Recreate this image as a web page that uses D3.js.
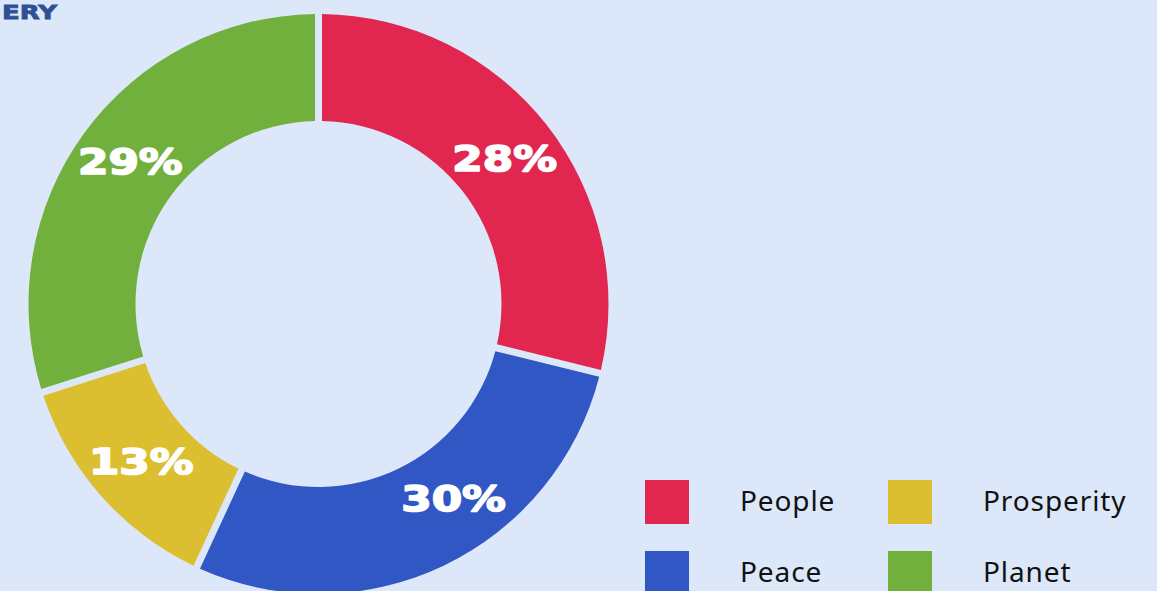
<!DOCTYPE html>
<html>
<head>
<meta charset="utf-8">
<script src="https://cdn.jsdelivr.net/npm/d3@7"></script>
<style>
  html, body { margin: 0; padding: 0; background: #dce8fa; overflow: hidden; }
  svg { display: block; }
</style>
</head>
<body>
<svg id="chart" width="1157" height="591"></svg>
<script>
// ---- data ----
const categories = ["People", "Peace", "Prosperity", "Planet"];
const values = [28.9, 28.1, 13.0, 30.0];          // share of the ring
const valueLabels = ["28%", "30%", "13%", "29%"];  // printed labels
const colors = ["#e1264f", "#3157c4", "#dcbf30", "#71b03c"];
const legendOrder = ["People", "Prosperity", "Peace", "Planet"];
const titleFragment = "ERY";

// ---- layout ----
const W = 1157, H = 591;
const cx = 318.5, cy = 304, outerR = 290, innerR = 183;
const labelAngleNudge = [0, -0.16, 0, 0.02];
const svg = d3.select("#chart");

svg.append("rect").attr("width", W).attr("height", H).attr("fill", "#dce8fa");

const color = d3.scaleOrdinal().domain(categories).range(colors);

const data = categories.map((c, i) => ({ cat: c, value: values[i], label: valueLabels[i] }));

const pie = d3.pie().sort(null).value(d => d.value).padAngle(7 / 300);
const arc = d3.arc().innerRadius(innerR).outerRadius(outerR).padRadius(300);

const g = svg.append("g").attr("transform", `translate(${cx},${cy})`);
const arcs = pie(data);

g.selectAll("path.slice")
  .data(arcs)
  .join("path")
  .attr("class", "slice")
  .attr("d", arc)
  .attr("fill", d => color(d.data.cat));

const labelR = (innerR + outerR) / 2;
g.selectAll("text.pct")
  .data(arcs)
  .join("text")
  .attr("class", "pct")
  .attr("transform", (d, i) => {
    const a = (d.startAngle + d.endAngle) / 2 + labelAngleNudge[i];
    const x = labelR * Math.sin(a), y = -labelR * Math.cos(a);
    return `translate(${x},${y}) scale(1.25,1)`;
  })
  .attr("text-anchor", "middle")
  .attr("dy", "0.37em")
  .attr("fill", "#ffffff")
  .attr("stroke", "#ffffff")
  .attr("stroke-width", 1.6)
  .attr("stroke-linejoin", "round")
  .style("font-family", "'DejaVu Sans', sans-serif")
  .style("font-weight", "bold")
  .style("font-size", "35px")
  .text(d => d.data.label);

// title fragment (cropped heading)
svg.append("text")
  .attr("transform", "translate(2,19) scale(1.3,1)")
  .attr("text-anchor", "start")
  .attr("fill", "#2f4f95")
  .attr("stroke", "#2f4f95")
  .attr("stroke-width", 0.8)
  .style("font-family", "'DejaVu Sans', sans-serif")
  .style("font-weight", "bold")
  .style("font-size", "20px")
  .text(titleFragment);

// legend
const legX = d3.scalePoint().domain([0, 1]).range([645, 888]);
const legY = d3.scalePoint().domain([0, 1]).range([480, 551]);
const leg = svg.append("g");
legendOrder.forEach((c, i) => {
  const col = i % 2, row = Math.floor(i / 2);
  const x = legX(col), y = legY(row);
  leg.append("rect")
    .attr("x", x).attr("y", y).attr("width", 44).attr("height", 44)
    .attr("fill", color(c));
  leg.append("text")
    .attr("x", x + 95).attr("y", y + 31)
    .attr("fill", "#111111")
    .style("font-family", "'Noto Sans', sans-serif")
    .style("font-size", "28px")
    .style("letter-spacing", "0.9px")
    .text(c);
});
</script>
</body>
</html>
